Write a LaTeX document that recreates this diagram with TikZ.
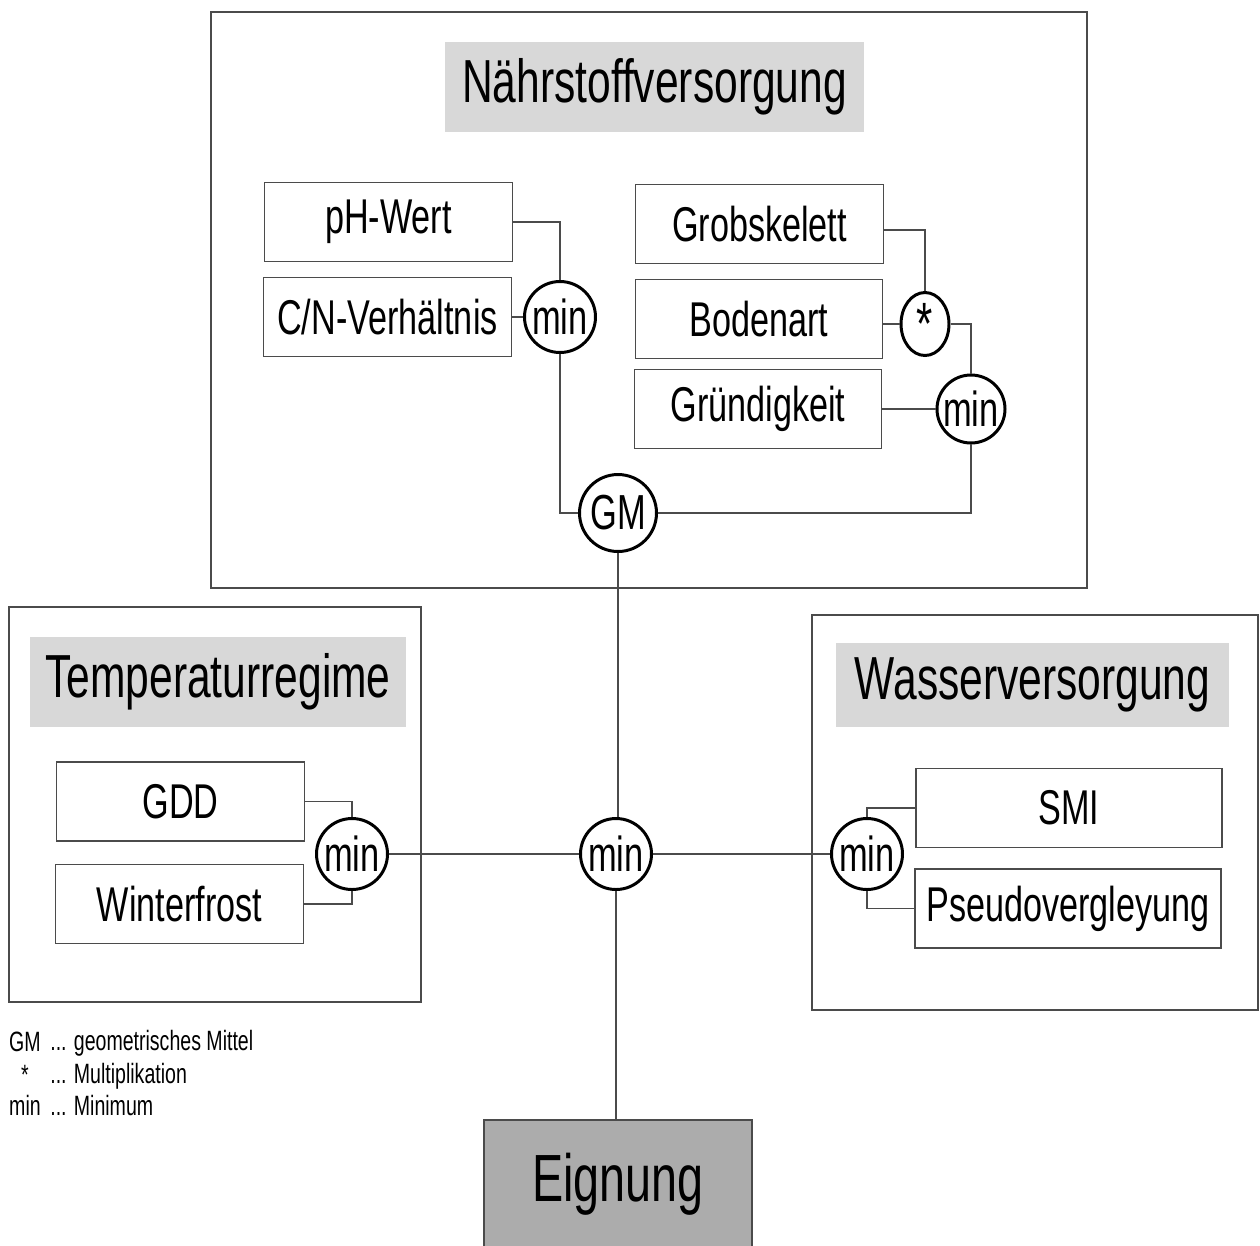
\documentclass[tikz,border=0pt]{standalone}
\usepackage{fontspec}
\setmainfont{Liberation Sans}[FakeStretch=0.7]
\definecolor{kopfgray}{RGB}{216,216,216}
\definecolor{eigngray}{RGB}{172,172,172}
\definecolor{linegray}{RGB}{75,75,75}
\usetikzlibrary{positioning,shapes.geometric}
\newcommand{\kopffont}{\fontsize{34.6pt}{36pt}\selectfont}
\newcommand{\boxfont}{\fontsize{27.8pt}{30pt}\selectfont}
\newcommand{\opfont}{\fontsize{28pt}{30pt}\selectfont}
\newcommand{\legfont}{\fontsize{15.9pt}{17pt}\selectfont}

\begin{document}
\begin{tikzpicture}[x=0.02cm,y=-0.02cm,
    merkmal/.style={draw=linegray,line width=0.8pt,inner sep=0pt,
        minimum width=4.95cm,minimum height=1.58cm,font=\boxfont},
    kopf/.style={fill=kopfgray,inner sep=0pt,minimum height=1.8cm,font=\kopffont},
    op/.style={circle,draw=black,line width=1.7pt,inner sep=0pt,
        minimum size=1.42cm,font=\opfont},
    verb/.style={draw=linegray,line width=0.8pt},
    rahmen/.style={draw=linegray,line width=0.9pt},
    legende/.style={font=\legfont,inner sep=0pt}]
  \useasboundingbox (0,0) rectangle (1260,1245);

  %% Frames of the three groups
  \draw[rahmen] (211,12) rectangle (1087,588);
  \draw[rahmen] (9,607) rectangle (421,1002);
  \draw[rahmen] (812,615) rectangle (1258,1010);

  %% Naehrstoffversorgung
  \node[kopf,minimum width=8.38cm] (naehrkopf) at (654.5,87) {Nährstoffversorgung};
  \node[merkmal] (ph) at (388.5,222) {pH-Wert};
  \node[merkmal] (cn) at (387.5,317) {C/N-Verhältnis};
  \node[merkmal] (grob) at (759.5,224) {Grobskelett};
  \node[merkmal] (boden) at (759,319) {Bodenart};
  \node[merkmal] (gruend) at (758,409) {Gründigkeit};
  \node[op] (nmin) at (560,317) {min};
  \node[op,ellipse,minimum width=0.96cm,minimum height=1.26cm,font=\fontsize{34pt}{34pt}\selectfont]
        (mult) at (925,324) {\raisebox{-0.35ex}{*}};
  \node[op,minimum size=1.36cm] (nmin2) at (971,409) {min};
  \node[op,minimum size=1.54cm] (gm) at (618,513) {GM};

  \draw[verb] (ph.east) -| (nmin.north);
  \draw[verb] (cn.east) -- (nmin.west);
  \draw[verb] (grob.east) ++(0,6) -| (mult.north);
  \draw[verb] (mult.west) -- (mult.west -| boden.east);
  \draw[verb] (mult.east) -| (nmin2.north);
  \draw[verb] (gruend.east) -- (nmin2.west);
  \draw[verb] (nmin.south) |- (gm.west);
  \draw[verb] (nmin2.south) |- (gm.east);

  %% Temperaturregime
  \node[kopf,minimum width=7.52cm] (tempkopf) at (218,682) {Temperaturregime};
  \node[merkmal] (gdd) at (180.5,801.5) {GDD};
  \node[merkmal] (frost) at (179.5,904) {Winterfrost};
  \node[op] (tmin) at (352,854) {min};
  \draw[verb] (gdd.east) -| (tmin.north);
  \draw[verb] (frost.east) -| (tmin.south);

  %% Wasserversorgung
  \node[kopf,minimum width=7.86cm,minimum height=1.68cm] (wasserkopf) at (1032.5,685) {Wasserversorgung};
  \node[merkmal,minimum width=6.12cm] (smi) at (1069,808) {SMI};
  \node[merkmal,minimum width=6.12cm] (pseudo) at (1068,908.5) {Pseudovergleyung};
  \node[op] (wmin) at (867,854) {min};
  \draw[verb] (smi.west) -| (wmin.north);
  \draw[verb] (pseudo.west) -| (wmin.south);

  %% Verknuepfung zur Eignung
  \node[op] (cmin) at (616,854) {min};
  \node[draw=linegray,line width=0.8pt,fill=eigngray,minimum width=5.36cm,minimum height=2.72cm,
        inner sep=0pt,font=\fontsize{38pt}{40pt}\selectfont] (eignung) at (618,1188) {\raisebox{0.6ex}{Eignung}};
  \draw[verb] (gm.south) -- (gm.south |- cmin.north);
  \draw[verb] (tmin.east) -- (cmin.west);
  \draw[verb] (cmin.east) -- (wmin.west);
  \draw[verb] (cmin.south) -- (cmin.south |- eignung.north);

  %% Legende
  \node[legende] (lgm) at (25,1042) {GM};
  \node[legende] (lstern) at (25,1075) {*};
  \node[legende] (lmin) at (25,1105) {min};
  \node[legende,anchor=west] (tgm) at (50,1043) {... geometrisches Mittel};
  \node[legende,anchor=west] (tstern) at (50,1076) {... Multiplikation};
  \node[legende,anchor=west] (tmin) at (50,1105) {... Minimum};
\end{tikzpicture}
\end{document}
